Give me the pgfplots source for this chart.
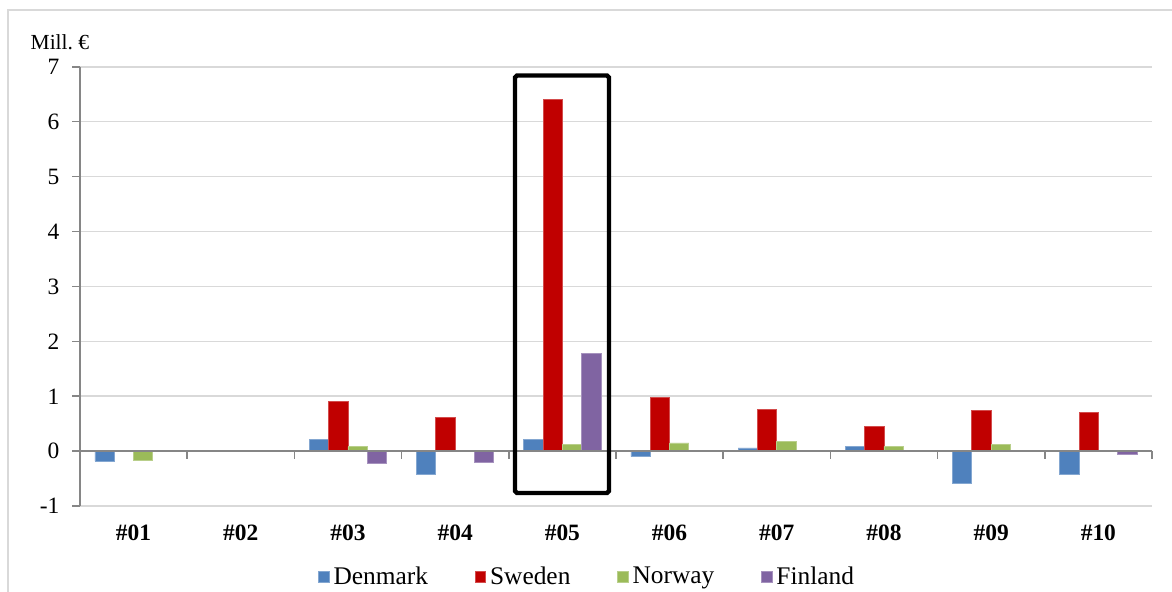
\documentclass[border=0pt]{standalone}
\usepackage{pgfplots}
\pgfplotsset{compat=1.18}
\usepackage{fontspec}
\setmainfont{Liberation Serif}
\definecolor{dk}{HTML}{4F81BD}
\definecolor{se}{HTML}{C00000}
\definecolor{no}{HTML}{9BBB59}
\definecolor{fi}{HTML}{8064A2}
\definecolor{axgray}{HTML}{868686}
\definecolor{gridc}{HTML}{D9D9D9}
\begin{document}
\begin{tikzpicture}
\begin{axis}[
    scale only axis,
    width=549pt, height=225pt,
    ybar=0pt, bar width=0.18,
    xmin=0.5, xmax=10.5,
    ymin=-1, ymax=7,
    ytick={-1,0,...,7},
    xtick={1,...,10},
    xticklabels={\#01,\#02,\#03,\#04,\#05,\#06,\#07,\#08,\#09,\#10},
    xticklabel style={font=\fontsize{12}{14}\selectfont\bfseries, yshift=-2pt},
    yticklabel style={font=\fontsize{12}{14}\selectfont, xshift=-3pt},
    /pgf/number format/assume math mode=true,
    axis x line*=bottom, axis y line*=left,
    x axis line style={draw=none},
    y axis line style={draw=axgray, line width=0.8pt, -},
    major x tick style={draw=none},
    ytick style={draw=axgray, line width=0.8pt},
    tick align=outside, major tick length=4pt,
    ymajorgrids, major grid style={draw=gridc, line width=0.8pt},
    legend columns=4,
    legend style={draw=none, at={(0.474,-0.161)}, anchor=center,
        font=\fontsize{13}{15}\selectfont,
        /tikz/every even column/.append style={column sep=22pt}},
    legend image code/.code={\fill[#1] (-2pt,-2.7pt) rectangle (3.4pt,2.7pt);},
    clip=false,
]
\addplot[fill=dk, draw=dk!70!white] coordinates {(1,-0.18)(2,0)(3,0.21)(4,-0.42)(5,0.21)(6,-0.10)(7,0.06)(8,0.08)(9,-0.59)(10,-0.43)};
\addplot[fill=se, draw=se!70!white] coordinates {(1,0.02)(2,0)(3,0.91)(4,0.61)(5,6.40)(6,0.98)(7,0.76)(8,0.45)(9,0.74)(10,0.70)};
\addplot[fill=no, draw=no!70!white] coordinates {(1,-0.17)(2,0)(3,0.08)(4,0)(5,0.12)(6,0.15)(7,0.17)(8,0.09)(9,0.12)(10,0.01)};
\addplot[fill=fi, draw=fi!70!white] coordinates {(1,0)(2,0)(3,-0.23)(4,-0.21)(5,1.78)(6,0)(7,0)(8,0)(9,0)(10,-0.05)};
\legend{Denmark,Sweden,Norway,Finland}
% zero line with category separators
\draw[axgray, line width=0.8pt] (axis cs:0.5,0) -- (axis cs:10.5,0);
\pgfplotsinvokeforeach{1.5,2.5,3.5,4.5,5.5,6.5,7.5,8.5,9.5,10.5}{
    \draw[axgray, line width=0.8pt] (axis cs:#1,0) -- ([yshift=-4pt]axis cs:#1,0);
}
% highlight box
\draw[black, line width=2.2pt, rounded corners=1pt] (axis cs:4.558,-0.76) rectangle (axis cs:5.435,6.84);
\node[font=\fontsize{11}{13}\selectfont] at (rel axis cs:-0.0187,1.0568) {Mill.\ €};
\coordinate (bl) at (rel axis cs:-0.0746,-0.1955);
\coordinate (tr) at (rel axis cs:1.0187,1.152);
\coordinate (fbl) at (rel axis cs:-0.0672,-0.1955);
\coordinate (ftl) at (rel axis cs:-0.0672,1.1295);
\coordinate (ftr) at (rel axis cs:1.0187,1.1295);
\end{axis}
\pgfresetboundingbox
\path[use as bounding box] (bl) rectangle (tr);
\draw[gridc, line width=1pt] (fbl) -- (ftl) -- (ftr);
\end{tikzpicture}
\end{document}
